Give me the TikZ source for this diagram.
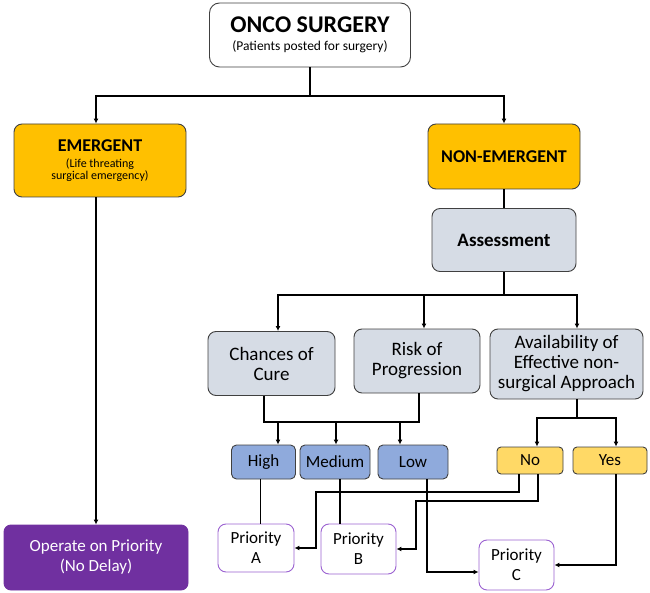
\documentclass[tikz,border=0pt]{standalone}
\usepackage{fontspec}
\setmainfont{Carlito}
\usetikzlibrary{arrows.meta}
\definecolor{edgegray}{HTML}{404040}
\definecolor{amber}{HTML}{FFC000}
\definecolor{mist}{HTML}{D6DCE5}
\definecolor{steel}{HTML}{8FAADC}
\definecolor{butter}{HTML}{FFD966}
\definecolor{plum}{HTML}{7030A0}
\definecolor{lilac}{HTML}{9B62D1}
\tikzstyle{stage}=[rectangle, rounded corners=8pt, draw=edgegray, line width=0.9pt, align=center, inner sep=2pt]
\tikzstyle{title}=[stage, fill=white, rounded corners=10pt, minimum width=201pt, minimum height=64pt]
\tikzstyle{urgent}=[stage, fill=amber, font=\fontsize{18}{19}\selectfont\bfseries]
\tikzstyle{query}=[stage, fill=mist, font=\fontsize{19}{20}\selectfont, minimum height=64pt]
\tikzstyle{level}=[stage, rounded corners=5pt, fill=steel, font=\fontsize{17}{19}\selectfont, minimum height=34pt]
\tikzstyle{answer}=[stage, rounded corners=4pt, fill=butter, font=\fontsize{17}{19}\selectfont, minimum height=27pt]
\tikzstyle{prio}=[stage, draw=lilac, fill=white, font=\fontsize{17}{20}\selectfont, minimum height=48pt]
\tikzstyle{flow}=[line width=1.4pt]
\tikzstyle{arrow}=[flow, -{Latex[length=5pt,width=5pt]}]
\newcommand{\prio}{\node[prio]}
\newcommand{\level}{\node[level]}

\begin{document}
\begin{tikzpicture}[x=1pt, y=-1pt]
\useasboundingbox (0,0) rectangle (650,593);
\node[title] (onco) at (310,35) {{\fontsize{24}{26}\selectfont\bfseries ONCO SURGERY}\\[6pt]{\fontsize{13.5}{15}\selectfont (Patients posted for surgery)}};
\node[urgent, minimum width=172pt, minimum height=73pt] (emg) at (100,160.5)
  {EMERGENT\\[-3pt]{\fontsize{12}{12}\selectfont\mdseries (Life threating}\\[-7pt]{\fontsize{12}{12}\selectfont\mdseries surgical emergency)}};
\node[urgent, minimum width=152pt, minimum height=65pt] (nonemg) at (504,156.5) {NON-EMERGENT};
\node[query, minimum width=144pt, minimum height=63pt, font=\fontsize{19}{20}\selectfont\bfseries] (assess) at (504,240) {Assessment};
\node[query, minimum width=127pt] (cure) at (271.5,363.5) {Chances of\\Cure};
\node[query, minimum width=126pt] (risk) at (417,361) {Risk of\\Progression};
\node[query, minimum width=153pt, minimum height=70pt] (avail) at (566.5,364) {Availability of\\Effective non-\\surgical Approach};
\level (high) [minimum width=64pt] at (263.5,462) {High};
\level (medium) [minimum width=70pt] at (335,462) {Medium};
\level (low) [minimum width=70pt] at (413,462) {Low};
\node[answer, minimum width=66pt] (no) at (530,460.5) {No};
\node[answer, minimum width=74pt] (yes) at (610,460.5) {Yes};
\node[stage, draw=plum, fill=plum, text=white, rounded corners=7pt, font=\fontsize{17}{20}\selectfont, minimum width=184pt, minimum height=65pt] (opr) at (96,557.5) {Operate on Priority\\(No Delay)};
\prio (pa) [minimum width=76pt] at (256,548) {Priority\\A};
\prio (pb) [minimum width=75pt, minimum height=50pt] at (358.5,549) {Priority\\B};
\prio (pc) [minimum width=75pt, minimum height=50pt] at (516.5,565) {Priority\\C};

% top split
\coordinate (split) at (310,96);
\draw[flow] (onco) -- (split);
\draw[arrow] (split) -| (opr.north |- emg.north);
\draw[arrow] (split) -| (nonemg);
\draw[arrow] (emg.south -| opr.north) -- (opr);
\draw[flow] (nonemg) -- (assess);

% assessment fork
\coordinate (fork) at (504,295);
\coordinate (c1) at ([xshift=6.5pt]cure.north);
\coordinate (r1) at ([xshift=7pt]risk.north);
\coordinate (v1) at ([xshift=10.5pt]avail.north);
\draw[flow] (assess) -- (fork);
\draw[arrow] (fork) -| (c1);
\draw[arrow] (fork) -| (v1);
\draw[arrow] (r1 |- fork) -- (r1);

% cure and risk to levels
\coordinate (c2) at ([xshift=-7.5pt]cure.south);
\coordinate (r2) at ([xshift=2pt]risk.south);
\coordinate (lv) at (340,422);
\draw[flow] (c2) |- (r2 |- lv) -- (r2);
\coordinate (h1) at ([xshift=14.5pt]high.north);
\coordinate (m1) at ([xshift=1pt]medium.north);
\coordinate (l1) at ([xshift=-13pt]low.north);
\draw[arrow] (h1 |- lv) -- (h1);
\draw[arrow] (m1 |- lv) -- (m1);
\draw[arrow] (l1 |- lv) -- (l1);

% availability to no/yes
\coordinate (v2) at ([xshift=10.5pt]avail.south);
\coordinate (ny) at (577,418);
\coordinate (n1) at ([xshift=7pt]no.north);
\coordinate (y1) at ([xshift=6pt]yes.north);
\draw[flow] (v2) -- (ny);
\draw[arrow] (ny) -| (n1);
\draw[arrow] (ny) -| (y1);

% to priorities
\coordinate (h2) at ([xshift=-3pt]high.south);
\coordinate (m2) at ([xshift=5pt]medium.south);
\coordinate (l2) at ([xshift=14pt]low.south);
\draw[flow] (h2) -- (h2 |- pa.north);
\draw[flow] (m2) -- (m2 |- pb.north);
\draw[arrow] (l2) |- ([yshift=-7pt]pc.west);
\coordinate (n2) at ([xshift=-11pt]no.south);
\coordinate (n3) at ([xshift=8pt]no.south);
\coordinate (na) at (316,492);
\coordinate (nb) at (416,501);
\draw[arrow] (n2) |- (na) |- (pa);
\draw[arrow] (n3) |- (nb) |- (pb);
\coordinate (y2) at ([xshift=6pt]yes.south);
\draw[arrow] (y2) |- (pc);
\end{tikzpicture}
\end{document}
